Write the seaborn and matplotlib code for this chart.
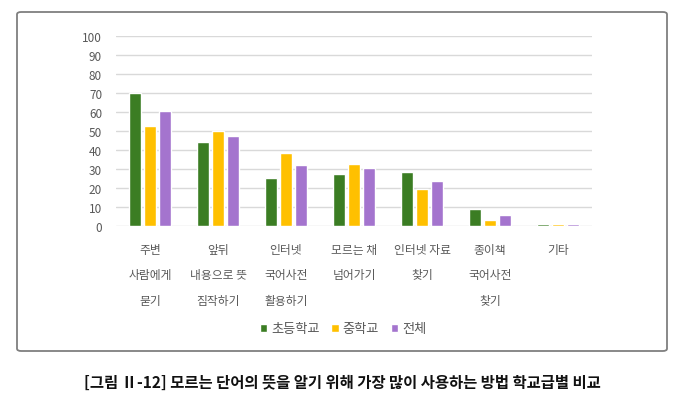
import matplotlib
matplotlib.use("Agg")
import matplotlib.pyplot as plt
import seaborn as sns
import pandas as pd
from matplotlib.patches import FancyBboxPatch

categories = ["주변\n사람에게\n묻기", "앞뒤\n내용으로 뜻\n짐작하기", "인터넷\n국어사전\n활용하기",
              "모르는 채\n넘어가기", "인터넷 자료\n찾기", "종이책\n국어사전\n찾기", "기타"]
series_names = ["초등학교", "중학교", "전체"]
elementary = [70.0, 44.6, 25.4, 27.7, 28.4, 9.1, 1.1]
middle = [53.0, 50.0, 38.8, 32.8, 19.8, 3.3, 1.0]
total = [60.9, 47.4, 32.3, 30.5, 23.9, 6.0, 1.1]
yticks = [0, 10, 20, 30, 40, 50, 60, 70, 80, 90, 100]
caption = "[그림 Ⅱ-12] 모르는 단어의 뜻을 알기 위해 가장 많이 사용하는 방법 학교급별 비교"

colors = ["#3B7D23", "#FFC000", "#A474CE"]

rows = []
for name, vals in zip(series_names, [elementary, middle, total]):
    for c, v in zip(categories, vals):
        rows.append({"category": c, "series": name, "value": v})
df = pd.DataFrame(rows)

sns.set_theme(style="white")
plt.rcParams['font.family'] = ['Noto Sans CJK KR', 'DejaVu Sans']

fig = plt.figure(figsize=(6.84, 4.02), dpi=100)
ax = fig.add_axes([116/684, 1-227.3/402, (592-116)/684, (227.3-37.3)/402])

sns.barplot(data=df, x="category", y="value", hue="series", order=categories,
            hue_order=series_names, palette=colors, width=0.66, gap=0.22,
            saturation=1, ax=ax, legend=True)

ax.set_ylim(0, 100)
ax.set_xlim(-0.5, len(categories) - 0.5)
ax.set_yticks(yticks)
ax.set_yticklabels([str(t) for t in yticks], fontsize=8.5, color="#595959")
ax.yaxis.grid(True, color="#D9D9D9", linewidth=1)
ax.set_axisbelow(True)
for s in ax.spines.values():
    s.set_visible(False)
ax.tick_params(axis="both", length=0)
ax.tick_params(axis="y", pad=10)
ax.tick_params(axis="x", pad=12)
ax.set_xlabel("")
ax.set_ylabel("")
for lbl in ax.get_xticklabels():
    lbl.set_fontsize(8.5)
    lbl.set_color("#595959")
    lbl.set_linespacing(2.23)
    lbl.set_verticalalignment("top")

leg = ax.legend(loc="center", bbox_to_anchor=(343/684, 1-330/402), bbox_transform=fig.transFigure,
                ncol=3, frameon=False, fontsize=9.5, handlelength=0.55, handleheight=0.55,
                handletextpad=0.3, columnspacing=0.9)
for t in leg.get_texts():
    t.set_color("#595959")

box = FancyBboxPatch((17/684, 1-352/402), (667-17)/684, (352-13)/402,
                     boxstyle="round,pad=0,rounding_size=0.006", transform=fig.transFigure,
                     facecolor="none", edgecolor="#7F7F7F", linewidth=1.3)
fig.patches.append(box)

fig.text(342/684, 1-383/402, caption, ha="center", va="center", fontsize=11.1,
         fontweight="bold", color="#111111")

fig.savefig("out.png", dpi=100)
